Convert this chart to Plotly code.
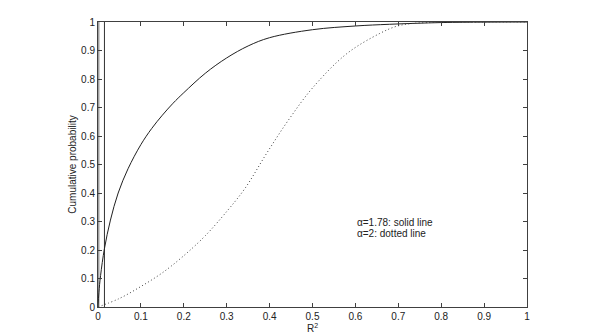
import plotly.graph_objects as go

# solid curve (alpha = 1.78)
solid_x = [0, 0.002, 0.006, 0.015, 0.029, 0.047, 0.07, 0.1, 0.125, 0.15, 0.175, 0.2, 0.25, 0.3, 0.35, 0.40, 0.50, 0.60, 0.68, 0.8, 0.9, 1.0]
solid_y = [0, 0.05, 0.11, 0.205, 0.305, 0.40, 0.485, 0.57, 0.626, 0.673, 0.715, 0.752, 0.82, 0.874, 0.916, 0.945, 0.973, 0.986, 0.992, 0.998, 0.9995, 1.0]

# dotted curve (alpha = 2)
dot_x = [0, 0.05, 0.1, 0.15, 0.2, 0.25, 0.3, 0.343, 0.393, 0.444, 0.502, 0.58, 0.657, 0.696, 0.734, 0.8, 0.9, 1.0]
dot_y = [0, 0.03, 0.072, 0.12, 0.18, 0.25, 0.335, 0.417, 0.539, 0.656, 0.772, 0.889, 0.96, 0.985, 0.995, 0.999, 1.0, 1.0]

# vertical reference lines
vline_black_x = [0.015, 0.015]
vline_gray_x = [0, 0]
vline_y = [0, 1]

tick_vals = [0, 0.1, 0.2, 0.3, 0.4, 0.5, 0.6, 0.7, 0.8, 0.9, 1]
tick_text = ["0", "0.1", "0.2", "0.3", "0.4", "0.5", "0.6", "0.7", "0.8", "0.9", "1"]

ann_lines = ["α=1.78: solid line", "α=2: dotted line"]
ann_x = [0.599, 0.599]
ann_y = [0.298, 0.258]

fig = go.Figure()
fig.add_trace(go.Scatter(x=vline_gray_x, y=vline_y, mode="lines",
                         line=dict(color="#a0a0a0", width=3), showlegend=False))
fig.add_trace(go.Scatter(x=vline_black_x, y=vline_y, mode="lines",
                         line=dict(color="#303030", width=1), showlegend=False))
fig.add_trace(go.Scatter(x=solid_x, y=solid_y, mode="lines", line_shape="spline",
                         line=dict(color="#202020", width=1, smoothing=1.0), showlegend=False))
fig.add_trace(go.Scatter(x=dot_x, y=dot_y, mode="lines", line_shape="spline",
                         line=dict(color="#404040", width=1, dash="1px,2.5px", smoothing=1.0), showlegend=False))

for t, ax, ay in zip(ann_lines, ann_x, ann_y):
    fig.add_annotation(x=ax, y=ay, text=t, showarrow=False, xanchor="left", yanchor="middle",
                       font=dict(size=10, color="#222"))

axis_common = dict(
    range=[0, 1], tickvals=tick_vals, ticktext=tick_text,
    ticks="inside", ticklen=4, tickcolor="#404040", tickwidth=1,
    showline=True, linecolor="#404040", linewidth=1, mirror="ticks",
    showgrid=False, zeroline=False, tickfont=dict(size=10, color="#222"),
    automargin=False,
)

fig.update_layout(
    width=600, height=334,
    margin=dict(l=97.5, r=72.5, t=22, b=27),
    paper_bgcolor="white", plot_bgcolor="white",
    font=dict(family="Liberation Sans, Arial, sans-serif", size=10, color="#222"),
    xaxis=dict(**axis_common, title=dict(text="R<sup>2</sup>", standoff=0, font=dict(size=10))),
    yaxis=dict(**axis_common, title=dict(text="Cumulative probability", standoff=2, font=dict(size=10))),
)

fig.write_html("out.html")
